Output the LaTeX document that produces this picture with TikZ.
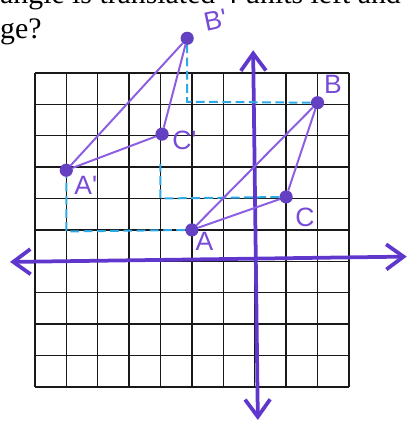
\documentclass[tikz,border=0pt]{standalone}
\usepackage{fontspec}
\setmainfont{Liberation Serif}
\newfontfamily\handfont{Liberation Sans}
\usetikzlibrary{arrows.meta}
\pgfdeclarelayer{background}
\pgfdeclarelayer{edgelayer}
\pgfdeclarelayer{nodelayer}
\pgfsetlayers{background,edgelayer,nodelayer,main}
\definecolor{axispurple}{RGB}{95,55,205}
\definecolor{penpurple}{RGB}{140,95,225}
\definecolor{inkpurple}{RGB}{120,75,215}
\definecolor{dotpurple}{RGB}{100,65,195}
\definecolor{dashcyan}{RGB}{45,170,230}
\tikzstyle{pt}=[inner sep=0pt,minimum width=0.42cm,fill=dotpurple,draw=none,shape=circle]
\tikzstyle{lbl}=[text=inkpurple,font=\handfont\fontsize{24}{24}\selectfont,inner sep=0pt]
\tikzstyle{side}=[draw=penpurple,line width=1.8pt]
\tikzstyle{slide}=[draw=dashcyan,line width=1.8pt,dash pattern=on 8pt off 4pt]
\tikzstyle{axis}=[draw=axispurple,line width=3.4pt,line cap=round,<->]
\tikzstyle{gridline}=[draw=black!90,line width=1.2pt]
\tikzstyle{question}=[anchor=base west,inner sep=0pt,font=\fontsize{27}{27}\selectfont]
\tikzset{>={Straight Barb[length=5.5mm,width=8mm]}}

\begin{document}
\begin{tikzpicture}
	\useasboundingbox (-8.11,-5.18) rectangle (4.94,8.32);
	\clip (-8.11,-5.18) rectangle (4.94,8.32);
	\node [style=question] (q1) at (-8.11,8.2) {angle is translated 4 units left and};
	\node [style=question] (q2) at (-8.11,7.11) {ge?};
	\begin{pgfonlayer}{background}
		\draw [style=gridline] (-7,-4) grid (3,6);
	\end{pgfonlayer}
	\begin{pgfonlayer}{nodelayer}
		\node [style=pt] (a) at (-2, 1) {};
		\node [style=pt] (b) at (2, 5.05) {};
		\node [style=pt] (c) at (1, 2.05) {};
		\node [style=pt] (ai) at (-6, 2.9) {};
		\node [style=pt] (bi) at (-2.15, 7.1) {};
		\node [style=pt] (ci) at (-2.95, 4.05) {};
		\node [style=lbl] (la) at (-1.6, 0.62) {A};
		\node [style=lbl] (lb) at (2.49, 5.62) {B};
		\node [style=lbl] (lc) at (1.6, 1.41) {C};
		\node [style=lbl] (lai) at (-5.38, 2.43) {A'};
		\node [style=lbl] (lbi) at (-1.25, 7.68) [rotate=12] {B'};
		\node [style=lbl] (lci) at (-2.24, 3.86) {C'};
		\coordinate (xw) at (-7.79, -0.02);
		\coordinate (xe) at (4.84, 0.15);
		\coordinate (yn) at (-0.05, 6.72);
		\coordinate (ys) at (0.1, -5.05);
		\coordinate (bk) at (-2.15, 5.08);
		\coordinate (ck) at (-3, 2);
		\coordinate (cu) at (-3, 3.1);
		\coordinate (ak) at (-6, 0.95);
		\coordinate (au) at (-6, 2.7);
	\end{pgfonlayer}
	\begin{pgfonlayer}{edgelayer}
		\draw [style=axis] (xw) to (xe);
		\draw [style=axis] (yn) to (ys);
		\draw [style=slide] (b) -- (bk) -- (bi);
		\draw [style=slide] (c) -- (ck) -- (cu);
		\draw [style=slide] (a) -- (ak) -- (au);
		\draw [style=side] (a) to (b);
		\draw [style=side] (b) to (c);
		\draw [style=side] (c) to (a);
		\draw [style=side] (ai) to (bi);
		\draw [style=side] (bi) to (ci);
		\draw [style=side] (ci) to (ai);
	\end{pgfonlayer}
\end{tikzpicture}
\end{document}
